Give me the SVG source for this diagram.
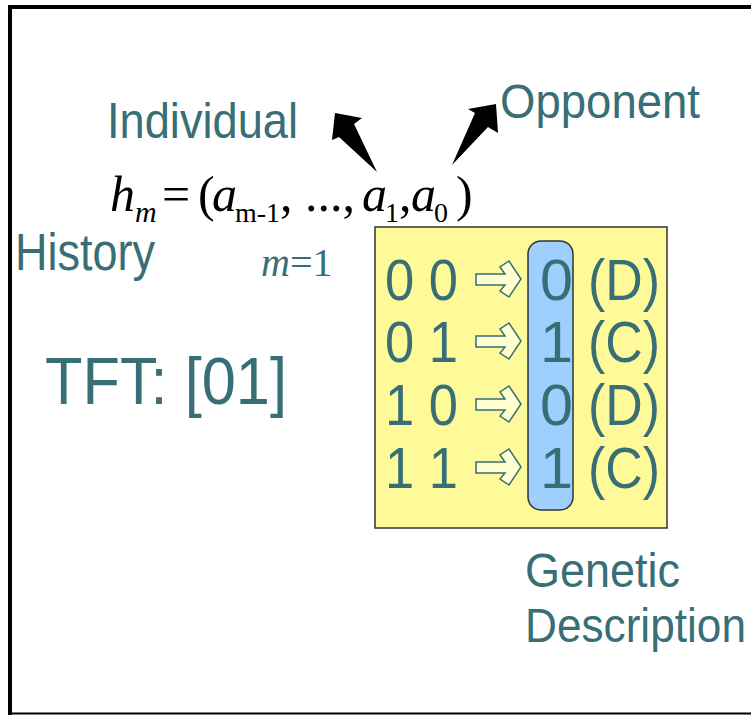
<svg xmlns="http://www.w3.org/2000/svg" width="751" height="715" viewBox="0 0 751 715">
<style>
.lbl{font-family:"Liberation Sans",Arial,sans-serif;fill:#386E75}
.cell{font-family:"Liberation Sans",Arial,sans-serif;fill:#386E75;font-size:58px}
.math{font-family:"Liberation Serif","Times New Roman",serif;fill:#000}
.harrow{fill:#FFFFD0;stroke:#386E75;stroke-width:1.5;stroke-linejoin:miter}
</style>
<defs>
<polygon id="ha" class="harrow" points="0,0 29,0 24,-7 33,-13 45,5 33,23 24,17 29,11 0,11"/>
</defs>
<rect width="751" height="715" fill="#fff"/>
<g id="frame" stroke="#000" fill="none">
<line x1="8" y1="7" x2="751" y2="7" stroke-width="4"/>
<line x1="10" y1="5" x2="10" y2="715" stroke-width="4"/>
<line x1="8" y1="713.5" x2="751" y2="713.5" stroke-width="2"/>
</g>
<g id="individual"><text class="lbl" x="107" y="138" font-size="50" textLength="191" lengthAdjust="spacingAndGlyphs">Individual</text></g>
<g id="opponent"><text class="lbl" x="500" y="118" font-size="49" textLength="200" lengthAdjust="spacingAndGlyphs">Opponent</text></g>
<g id="history"><text class="lbl" x="15" y="270" font-size="51" textLength="140" lengthAdjust="spacingAndGlyphs">History</text></g>
<g id="tft"><text class="lbl" x="45" y="404" font-size="67" textLength="242" lengthAdjust="spacingAndGlyphs">TFT: [01]</text></g>
<g id="formula">
<text class="math" font-size="50" y="211">
<tspan x="110" font-style="italic">h</tspan>
<tspan x="135" y="222" font-size="30" font-style="italic">m</tspan>
<tspan x="162" y="211">=</tspan>
<tspan x="198" y="211">(</tspan>
<tspan x="212" y="211" font-style="italic">a</tspan>
<tspan x="235" y="222" font-size="28">m-1</tspan>
<tspan x="280" y="211">, ..., </tspan>
<tspan x="362" y="211" font-style="italic">a</tspan>
<tspan x="385" y="222" font-size="28">1</tspan>
<tspan x="399" y="211">,</tspan>
<tspan x="411" y="211" font-style="italic">a</tspan>
<tspan x="434" y="222" font-size="28">0</tspan>
<tspan x="456" y="211">)</tspan>
</text>
</g>
<g id="m1"><text class="math" font-size="40" y="276" style="fill:#386E75"><tspan x="261" font-style="italic">m</tspan><tspan>=1</tspan></text></g>
<g id="connectors">
<polygon points="335,113 362,118 354,124 377,172 339,137 332,140" fill="#000"/>
<polygon points="496,104 498,133 488,127 452,165 475,113 468,109" fill="#000"/>
</g>
<g id="genome">
<rect x="375" y="227" width="292" height="301" fill="#FFFA99" stroke="#333" stroke-width="1.5"/>
<rect x="528" y="241" width="45" height="269" rx="13" fill="#9FCFFF" stroke="#333" stroke-width="1.5"/>
<g id="row1"><text class="cell" x="385" y="300" textLength="73" lengthAdjust="spacingAndGlyphs">0 0</text><use href="#ha" x="476" y="274"/><text class="cell" x="540" y="300" textLength="33" lengthAdjust="spacingAndGlyphs">0</text><text class="cell" x="588" y="300" textLength="72" lengthAdjust="spacingAndGlyphs">(D)</text></g>
<g id="row2"><text class="cell" x="385" y="362" textLength="73" lengthAdjust="spacingAndGlyphs">0 1</text><use href="#ha" x="476" y="336"/><text class="cell" x="540" y="362" textLength="33" lengthAdjust="spacingAndGlyphs">1</text><text class="cell" x="588" y="362" textLength="72" lengthAdjust="spacingAndGlyphs">(C)</text></g>
<g id="row3"><text class="cell" x="385" y="425" textLength="73" lengthAdjust="spacingAndGlyphs">1 0</text><use href="#ha" x="476" y="399"/><text class="cell" x="540" y="425" textLength="33" lengthAdjust="spacingAndGlyphs">0</text><text class="cell" x="588" y="425" textLength="72" lengthAdjust="spacingAndGlyphs">(D)</text></g>
<g id="row4"><text class="cell" x="385" y="488" textLength="73" lengthAdjust="spacingAndGlyphs">1 1</text><use href="#ha" x="476" y="462"/><text class="cell" x="540" y="488" textLength="33" lengthAdjust="spacingAndGlyphs">1</text><text class="cell" x="588" y="488" textLength="72" lengthAdjust="spacingAndGlyphs">(C)</text></g>
</g>
<g id="genetic"><text class="lbl" font-size="49"><tspan x="525" y="587" textLength="155" lengthAdjust="spacingAndGlyphs">Genetic</tspan><tspan x="525" y="642" textLength="221" lengthAdjust="spacingAndGlyphs">Description</tspan></text></g>
</svg>
